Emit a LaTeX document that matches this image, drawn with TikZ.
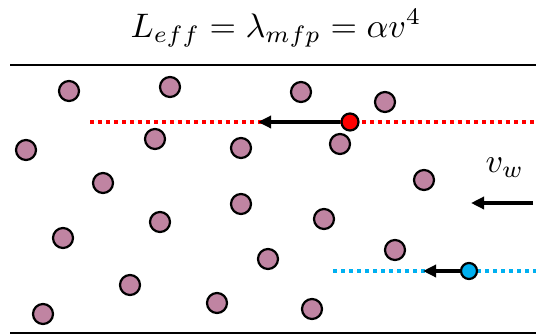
\documentclass[tikz,border=0pt]{standalone}
\usetikzlibrary{arrows.meta}
\definecolor{purp}{RGB}{192,132,162}
\definecolor{myblue}{RGB}{0,176,240}
\begin{document}
\begin{tikzpicture}[x=1pt,y=-1pt,
  part/.style={circle,draw=black,line width=2.2pt,fill=purp,minimum size=20pt,inner sep=0pt},
  redp/.style={part,fill=red,minimum size=17pt},
  bluep/.style={part,fill=myblue,minimum size=16pt},
  dotline/.style={line width=3.8pt,dash pattern=on 4pt off 4pt},
  vel/.style={line width=3.3pt,-{Triangle[length=13pt,width=12pt]}},
  big/.style={scale=3.4,inner sep=0pt}]
\useasboundingbox (0,0) rectangle (536,335);
\node[big,anchor=base west] (title) at (130,37) {$L_{eff}=\lambda_{mfp}=\alpha v^4$};
\coordinate (tl) at (10,65); \coordinate (tr) at (536,65);
\draw[line width=1.5pt] (tl) -- (tr);
\coordinate (bl) at (10,333); \coordinate (br) at (536,333);
\draw[line width=1.5pt] (bl) -- (br);
% particles
\foreach \n/\x/\y in {a/69/91,b/170/87,c/301/92,d/385/102,e/26/150,f/155/139,g/241/148,h/340/144,
  i/103/183,j/424/180,k/241/204,l/160/222,m/324/219,n/63/238,o/395/250,p/268/259,q/130/285,
  r/217/303,s/312/309,t/43/314}
  \node[part] (\n) at (\x,\y) {};
% red path
\coordinate (rl) at (90,122); \coordinate (rr) at (536,122);
\draw[red,dotline] (rl) -- (rr);
\node[redp] (red) at (350,122) {};
\coordinate (rend) at (258,122);
\draw[vel] (red) -- (rend);
% blue path
\coordinate (bll) at (333,271); \coordinate (blr) at (536,271);
\draw[myblue,dotline] (bll) -- (blr);
\node[bluep] (blue) at (469,271) {};
\coordinate (bend) at (423,271);
\draw[vel] (blue) -- (bend);
% wind
\node[big,anchor=base west] (vw) at (485,172) {$v_w$};
\coordinate (ws) at (533,203); \coordinate (we) at (471,203);
\draw[vel] (ws) -- (we);
\end{tikzpicture}
\end{document}
